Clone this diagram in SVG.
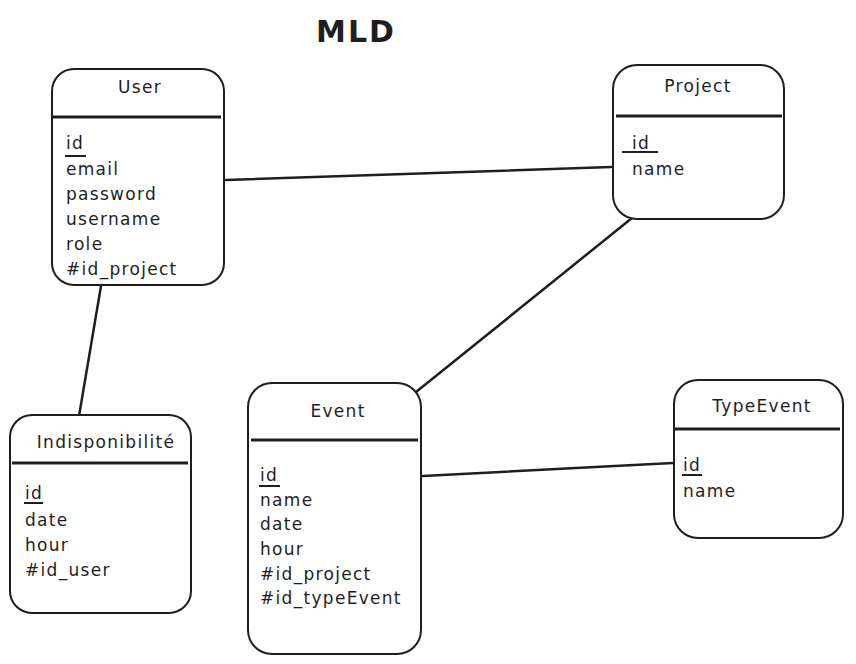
<svg xmlns="http://www.w3.org/2000/svg" width="856" height="664" viewBox="0 0 856 664">
<style>
.box{fill:#fff;stroke:#1e1e1e;stroke-width:2}
.div{stroke:#1e1e1e;stroke-width:3}
.t{font-family:"DejaVu Sans",sans-serif;font-size:17px;fill:#1e1e1e;letter-spacing:1.3px}
.h{text-anchor:middle}
.u{stroke:#1e1e1e;stroke-width:2}
.c{stroke:#1e1e1e;stroke-width:2.5;fill:none;stroke-linecap:round}
</style>
<rect width="856" height="664" fill="#fff"/>
<text x="356" y="42" text-anchor="middle" font-family="DejaVu Sans,sans-serif" font-size="30" font-weight="bold" letter-spacing="2" fill="#1e1e1e">MLD</text>
<g id="connectors">
<line class="c" x1="226" y1="180" x2="611" y2="167"/>
<line class="c" x1="632" y1="218" x2="416" y2="392"/>
<line class="c" x1="101" y1="286" x2="79" y2="416"/>
<line class="c" x1="423" y1="476" x2="673" y2="463"/>
</g>
<g id="user">
<rect class="box" x="52" y="69" width="172" height="216" rx="22"/>
<line class="div" x1="53" y1="117" x2="221" y2="117"/>
<text class="t h" x="140" y="93">User</text>
<text class="t" x="66" y="149">id</text>
<line class="u" x1="65" y1="156" x2="86" y2="156"/>
<text class="t" x="66" y="175">email</text>
<text class="t" x="66" y="200">password</text>
<text class="t" x="66" y="225">username</text>
<text class="t" x="66" y="250">role</text>
<text class="t" x="66" y="275">#id_project</text>
</g>
<g id="project">
<rect class="box" x="613" y="65" width="171" height="154" rx="24"/>
<line class="div" x1="616" y1="116" x2="782" y2="116"/>
<text class="t h" x="698" y="92">Project</text>
<text class="t" x="632" y="149">id</text>
<line class="u" x1="622" y1="152" x2="658" y2="152"/>
<text class="t" x="632" y="175">name</text>
</g>
<g id="indisponibilite">
<rect class="box" x="10" y="415" width="181" height="198" rx="22"/>
<line class="div" x1="12" y1="463" x2="188" y2="463"/>
<text class="t h" x="106" y="448">Indisponibilité</text>
<text class="t" x="25" y="499">id</text>
<line class="u" x1="24" y1="503" x2="43" y2="503"/>
<text class="t" x="25" y="526">date</text>
<text class="t" x="25" y="551">hour</text>
<text class="t" x="25" y="576">#id_user</text>
</g>
<g id="event">
<rect class="box" x="248" y="383" width="173" height="271" rx="24"/>
<line class="div" x1="251" y1="440" x2="418" y2="440"/>
<text class="t h" x="338" y="417">Event</text>
<text class="t" x="260" y="481">id</text>
<line class="u" x1="259" y1="486" x2="280" y2="486"/>
<text class="t" x="260" y="506">name</text>
<text class="t" x="260" y="530">date</text>
<text class="t" x="260" y="555">hour</text>
<text class="t" x="260" y="580">#id_project</text>
<text class="t" x="260" y="604">#id_typeEvent</text>
</g>
<g id="typeevent">
<rect class="box" x="674" y="380" width="169" height="158" rx="24"/>
<line class="div" x1="675" y1="429" x2="840" y2="429"/>
<text class="t h" x="762" y="412">TypeEvent</text>
<text class="t" x="683" y="471">id</text>
<line class="u" x1="682" y1="475" x2="702" y2="475"/>
<text class="t" x="683" y="497">name</text>
</g>
</svg>
